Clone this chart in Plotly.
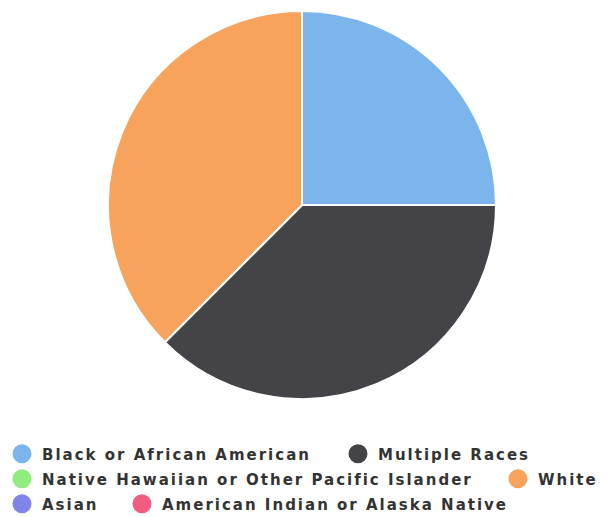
import plotly.graph_objects as go

categories = ["Black or African American", "Multiple Races",
              "Native Hawaiian or Other Pacific Islander", "White",
              "Asian", "American Indian or Alaska Native"]
values = [2, 3, 0, 3, 0, 0]
colors = ["#7cb5ec", "#434348", "#90ed7d", "#f7a35c", "#8085e9", "#f15c80"]

# legend entry placement (pixel position of legend box left, row centre)
legend_pos = [(2, 454), (338, 454), (2, 479), (498, 479), (2, 504), (122, 504)]

W, H = 610, 517
fig = go.Figure()
fig.add_trace(go.Pie(
    labels=categories, values=values, sort=False, direction="clockwise",
    rotation=0, textinfo="none", showlegend=False,
    marker=dict(colors=colors, line=dict(color="#ffffff", width=2)),
    domain=dict(x=[0, 1], y=[0, 1]),
))
legend_font = dict(family="DejaVu Sans", size=15, color="#333333", weight="bold")
layout_legends = {}
for i, (name, c) in enumerate(zip(categories, colors)):
    lid = "legend" if i == 0 else f"legend{i + 1}"
    fig.add_trace(go.Scatter(
        x=[None], y=[None], mode="markers",
        name=f'<span style="letter-spacing:2px">{name}</span>',
        marker=dict(color=c, size=16, symbol="circle", line=dict(width=3, color=c)),
        showlegend=True, legend=lid,
    ))
    px, py = legend_pos[i]
    layout_legends[lid] = dict(
        orientation="h", xref="container", yref="container",
        x=px / W, xanchor="left", y=1 - py / H, yanchor="middle",
        font=legend_font, itemclick=False, bgcolor="rgba(0,0,0,0)",
        borderwidth=0,
    )

fig.update_layout(
    width=W, height=H,
    margin=dict(l=0, r=6, t=11, b=118),
    paper_bgcolor="#ffffff", plot_bgcolor="#ffffff",
    xaxis=dict(visible=False), yaxis=dict(visible=False),
    **layout_legends,
)
fig.write_html(
    "out.html",
    config={"displayModeBar": False},
    post_script=(
        "document.body.style.margin='0';document.body.style.padding='0';"
        "document.documentElement.style.overflow='hidden';"
    ),
)
